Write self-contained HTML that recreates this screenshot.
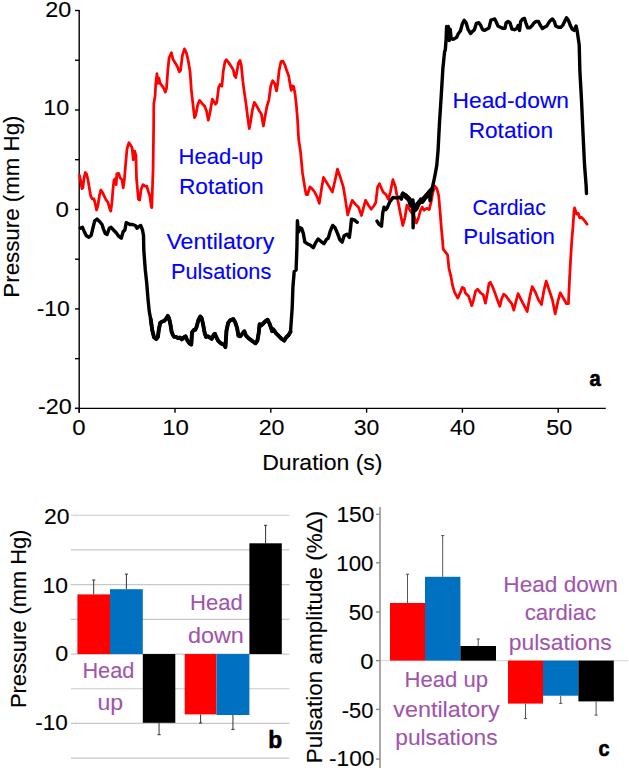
<!DOCTYPE html>
<html><head><meta charset="utf-8"><style>
html,body{margin:0;padding:0;background:#fff;width:629px;height:770px;overflow:hidden}
svg{display:block;font-family:"Liberation Sans",sans-serif}
</style></head><body>
<svg width="629" height="770" viewBox="0 0 629 770">
<rect width="629" height="770" fill="#fff"/>
<line x1="79.2" y1="9.9" x2="79.2" y2="412.7" stroke="#000" stroke-width="1.4"/>
<line x1="74.9" y1="408.4" x2="605.8" y2="408.4" stroke="#000" stroke-width="1.4"/>
<line x1="75.0" y1="10.50" x2="79.2" y2="10.50" stroke="#000" stroke-width="1.4"/>
<line x1="75.0" y1="60.24" x2="79.2" y2="60.24" stroke="#000" stroke-width="1.4"/>
<line x1="75.0" y1="109.97" x2="79.2" y2="109.97" stroke="#000" stroke-width="1.4"/>
<line x1="75.0" y1="159.71" x2="79.2" y2="159.71" stroke="#000" stroke-width="1.4"/>
<line x1="75.0" y1="209.45" x2="79.2" y2="209.45" stroke="#000" stroke-width="1.4"/>
<line x1="75.0" y1="259.19" x2="79.2" y2="259.19" stroke="#000" stroke-width="1.4"/>
<line x1="75.0" y1="308.92" x2="79.2" y2="308.92" stroke="#000" stroke-width="1.4"/>
<line x1="75.0" y1="358.66" x2="79.2" y2="358.66" stroke="#000" stroke-width="1.4"/>
<line x1="75.0" y1="408.40" x2="79.2" y2="408.40" stroke="#000" stroke-width="1.4"/>
<line x1="79.20" y1="408.4" x2="79.20" y2="412.7" stroke="#000" stroke-width="1.4"/>
<line x1="175.00" y1="408.4" x2="175.00" y2="412.7" stroke="#000" stroke-width="1.4"/>
<line x1="270.80" y1="408.4" x2="270.80" y2="412.7" stroke="#000" stroke-width="1.4"/>
<line x1="366.60" y1="408.4" x2="366.60" y2="412.7" stroke="#000" stroke-width="1.4"/>
<line x1="462.40" y1="408.4" x2="462.40" y2="412.7" stroke="#000" stroke-width="1.4"/>
<line x1="558.20" y1="408.4" x2="558.20" y2="412.7" stroke="#000" stroke-width="1.4"/>
<text transform="matrix(0.23333,0,0,0.22817,45.18,17.32)" font-size="100" font-weight="normal" fill="#000" stroke="#000" stroke-width="0.52">20</text>
<text transform="matrix(0.23434,0,0,0.22254,43.18,115.33)" font-size="100" font-weight="normal" fill="#000" stroke="#000" stroke-width="0.53">10</text>
<text transform="matrix(0.24167,0,0,0.21831,55.38,217.43)" font-size="100" font-weight="normal" fill="#000" stroke="#000" stroke-width="0.52">0</text>
<text transform="matrix(0.22993,0,0,0.21690,36.63,316.03)" font-size="100" font-weight="normal" fill="#000" stroke="#000" stroke-width="0.54">-10</text>
<text transform="matrix(0.23358,0,0,0.22676,37.92,413.92)" font-size="100" font-weight="normal" fill="#000" stroke="#000" stroke-width="0.52">-20</text>
<text transform="matrix(0.23958,0,0,0.21972,72.19,434.73)" font-size="100" font-weight="normal" fill="#000" stroke="#000" stroke-width="0.52">0</text>
<text transform="matrix(0.24040,0,0,0.21972,162.13,434.73)" font-size="100" font-weight="normal" fill="#000" stroke="#000" stroke-width="0.52">10</text>
<text transform="matrix(0.23235,0,0,0.21972,258.69,434.73)" font-size="100" font-weight="normal" fill="#000" stroke="#000" stroke-width="0.53">20</text>
<text transform="matrix(0.23010,0,0,0.21972,353.73,434.73)" font-size="100" font-weight="normal" fill="#000" stroke="#000" stroke-width="0.53">30</text>
<text transform="matrix(0.22762,0,0,0.21972,449.89,434.73)" font-size="100" font-weight="normal" fill="#000" stroke="#000" stroke-width="0.54">40</text>
<text transform="matrix(0.23398,0,0,0.21972,546.21,434.73)" font-size="100" font-weight="normal" fill="#000" stroke="#000" stroke-width="0.53">50</text>
<text transform="matrix(0.22941,0,0,0.22958,44.10,523.72)" font-size="100" font-weight="normal" fill="#000" stroke="#000" stroke-width="0.52">20</text>
<text transform="matrix(0.22929,0,0,0.22535,42.62,592.52)" font-size="100" font-weight="normal" fill="#000" stroke="#000" stroke-width="0.53">10</text>
<text transform="matrix(0.23333,0,0,0.22535,55.32,660.82)" font-size="100" font-weight="normal" fill="#000" stroke="#000" stroke-width="0.52">0</text>
<text transform="matrix(0.22482,0,0,0.22958,35.15,730.22)" font-size="100" font-weight="normal" fill="#000" stroke="#000" stroke-width="0.53">-10</text>
<text transform="matrix(0.22774,0,0,0.21690,336.43,522.13)" font-size="100" font-weight="normal" fill="#000" stroke="#000" stroke-width="0.54">150</text>
<text transform="matrix(0.22194,0,0,0.22394,336.37,571.33)" font-size="100" font-weight="normal" fill="#000" stroke="#000" stroke-width="0.54">100</text>
<text transform="matrix(0.22233,0,0,0.22394,348.76,620.03)" font-size="100" font-weight="normal" fill="#000" stroke="#000" stroke-width="0.54">50</text>
<text transform="matrix(0.23750,0,0,0.22958,360.20,669.12)" font-size="100" font-weight="normal" fill="#000" stroke="#000" stroke-width="0.51">0</text>
<text transform="matrix(0.21898,0,0,0.21972,341.67,718.23)" font-size="100" font-weight="normal" fill="#000" stroke="#000" stroke-width="0.55">-50</text>
<text transform="matrix(0.22604,0,0,0.22394,329.05,766.33)" font-size="100" font-weight="normal" fill="#000" stroke="#000" stroke-width="0.53">-100</text>
<text transform="translate(262.21,469.50) scale(1.0110,1)" font-size="22.8" font-weight="normal" fill="#000" stroke="#000" stroke-width="0.12">Duration (s)</text>
<text transform="translate(19.00,297.63) rotate(-90) scale(0.9782,1)" font-size="22.8" fill="#000" stroke="#000" stroke-width="0.12">Pressure (mm Hg)</text>
<text transform="translate(25.90,708.10) rotate(-90) scale(0.9586,1)" font-size="22.8" fill="#000" stroke="#000" stroke-width="0.12">Pressure (mm Hg)</text>
<text transform="translate(321.80,763.35) rotate(-90) scale(0.9871,1)" font-size="22.8" fill="#000" stroke="#000" stroke-width="0.12">Pulsation amplitude (%&#916;)</text>
<text transform="matrix(0.20189,0,0,0.22545,589.54,386.12)" font-size="100" font-weight="bold" fill="#000" stroke="#000" stroke-width="2.81">a</text>
<text transform="matrix(0.22800,0,0,0.24110,268.15,747.55)" font-size="100" font-weight="bold" fill="#000" stroke="#000" stroke-width="2.56">b</text>
<text transform="matrix(0.19796,0,0,0.22909,598.46,755.82)" font-size="100" font-weight="bold" fill="#000" stroke="#000" stroke-width="2.81">c</text>
<g fill="none" stroke-linejoin="round" stroke-linecap="round">
<path d="M79.6,175.7 L80.8,181.4 L81.9,188.6 L82.9,187.9 L84.0,177.9 L85.3,172.5 L86.5,173.9 L87.9,179.3 L89.4,188.6 L90.8,196.4 L92.2,198.9 L94.0,198.9 L95.4,204.3 L96.5,210.0 L97.9,205.7 L99.4,195.7 L100.8,190.0 L102.2,191.8 L104.0,195.7 L106.1,200.0 L107.9,202.1 L109.7,208.6 L110.8,211.1 L111.9,202.9 L112.9,190.0 L114.0,180.0 L114.9,183.4 L115.5,178.3 L116.2,184.7 L116.8,173.9 L118.7,173.3 L120.0,177.7 L121.9,179.6 L123.2,187.9 L124.4,179.6 L125.7,163.1 L127.0,149.1 L128.9,142.7 L130.8,145.3 L132.1,147.8 L133.3,159.9 L134.6,151.0 L135.9,155.4 L136.5,178.3 L137.2,186.0 L138.4,199.3 L139.7,200.0 L141.0,189.8 L142.9,184.7 L144.8,186.0 L146.7,186.0 L148.6,192.3 L149.9,196.2 L151.2,206.3 L151.8,207.6 L153.1,168.2 L153.6,129.0 L153.8,103.6 L155.1,96.0 L155.7,84.5 L157.0,73.7 L157.9,83.3 L158.9,78.2 L160.2,83.3 L162.1,85.8 L163.7,88.3 L165.3,92.2 L166.5,88.3 L167.8,70.5 L169.1,57.8 L171.4,52.7 L172.9,59.1 L174.8,62.3 L177.4,66.7 L179.3,71.8 L180.5,70.5 L182.4,55.3 L184.4,48.9 L186.3,52.7 L188.2,60.4 L190.1,71.8 L191.3,89.6 L192.6,101.1 L194.5,117.6 L195.8,115.1 L197.7,104.9 L199.6,100.4 L202.2,103.6 L204.7,106.2 L206.6,111.2 L208.3,120.2 L209.8,113.8 L212.3,99.2 L213.6,101.1 L215.5,104.2 L216.8,102.3 L218.7,87.1 L220.0,84.5 L221.9,86.4 L223.2,71.8 L225.0,61.6 L226.3,59.7 L228.8,62.9 L231.4,66.7 L233.3,69.9 L234.5,75.6 L235.8,77.5 L237.1,70.5 L238.4,62.9 L240.0,60.4 L241.3,65.4 L242.8,80.7 L244.1,90.9 L246.0,103.6 L247.9,118.9 L249.3,128.6 L250.4,122.7 L252.4,110.0 L254.3,102.3 L256.8,106.2 L259.4,111.2 L261.3,113.8 L263.4,126.0 L265.1,116.3 L267.0,106.2 L268.9,99.8 L270.8,85.8 L272.7,80.7 L274.6,83.3 L276.5,90.9 L277.8,83.3 L279.1,70.5 L281.0,61.6 L282.9,61.0 L284.8,64.8 L286.7,70.5 L288.6,75.6 L289.9,83.3 L291.2,90.3 L292.4,85.8 L293.7,86.4 L295.0,93.4 L296.2,103.6 L297.5,118.9 L298.6,138.6 L300.6,152.5 L302.5,172.9 L304.5,185.6 L306.1,194.5 L307.6,194.5 L309.9,186.9 L312.1,188.8 L314.6,192.0 L317.2,197.1 L319.3,203.4 L321.6,188.2 L323.5,177.4 L325.4,180.5 L329.3,186.9 L332.4,192.0 L335.0,180.5 L337.5,169.1 L340.1,176.7 L343.3,186.9 L345.2,198.3 L347.7,214.9 L349.6,208.5 L352.2,200.3 L355.3,204.1 L358.5,207.3 L361.5,215.5 L363.6,207.3 L365.5,200.3 L368.1,204.7 L371.2,209.2 L373.8,206.0 L375.7,202.8 L377.6,186.9 L379.5,183.7 L381.5,188.6 L383.4,192.4 L385.9,194.4 L388.4,199.4 L390.4,191.8 L392.9,179.7 L395.4,186.7 L397.4,198.2 L399.9,210.9 L402.8,225.5 L405.0,217.3 L406.9,205.2 L408.8,208.3 L411.3,212.2 L413.9,216.0 L416.4,223.0 L418.3,218.5 L420.3,210.9 L422.2,207.1 L424.1,210.3 L426.6,208.3 L429.2,209.6 L431.1,202.0 L433.0,191.8 L434.9,186.1 L436.8,188.6 L438.7,195.6 L440.0,210.9 L441.2,226.2 L442.5,240.0 L443.2,249.1 L445.1,251.6 L447.6,254.8 L448.9,268.2 L450.8,275.8 L452.7,286.0 L454.6,292.3 L457.8,298.1 L460.4,292.3 L462.3,287.3 L464.2,288.5 L465.4,293.0 L468.6,296.2 L471.8,305.7 L473.7,299.3 L475.6,291.1 L477.5,289.2 L480.7,293.0 L483.3,294.9 L485.4,303.2 L487.1,294.9 L489.0,283.4 L490.3,282.2 L492.2,286.0 L494.7,292.3 L497.9,301.2 L499.8,306.3 L501.7,298.7 L503.6,294.2 L506.2,296.2 L509.3,300.6 L511.9,303.8 L513.8,310.2 L515.7,302.5 L518.1,293.6 L521.2,299.8 L524.4,306.1 L527.2,311.5 L529.8,296.7 L532.2,286.6 L535.3,292.0 L538.4,299.8 L541.5,304.5 L543.9,290.5 L546.2,281.1 L549.3,290.5 L552.4,299.8 L555.2,313.9 L557.9,301.4 L560.2,292.8 L563.4,298.3 L566.5,303.7 L568.4,303.7 L569.6,278.0 L570.9,254.6 L571.9,239.0 L573.0,226.5 L574.0,210.9 L574.6,207.8 L576.6,214.0 L578.2,213.3 L579.7,217.9 L581.3,217.2 L583.6,219.5 L586.0,222.6 L587.1,224.2" stroke="#f00" stroke-width="2.75"/>
<path d="M80.2,228.2 L82.5,227.3 L84.4,231.8 L86.2,235.5 L88.9,237.3 L91.1,235.5 L92.9,228.2 L94.7,220.9 L97.1,219.1 L99.8,221.8 L102.0,224.5 L103.5,229.1 L105.3,233.6 L107.1,234.5 L109.3,228.2 L111.1,227.3 L113.5,230.0 L116.2,232.7 L118.9,236.4 L121.3,238.2 L123.1,231.8 L124.9,230.0 L126.2,222.7 L127.5,223.1 L129.8,224.5 L132.5,224.5 L135.3,225.5 L137.1,228.2 L138.9,226.4 L140.7,225.5 L142.5,230.0 L143.5,235.5 L143.8,250.0 L145.3,270.0 L146.7,282.7 L148.0,299.1 L149.3,311.8 L150.7,319.1 L152.2,330.0 L154.0,337.3 L156.2,339.1 L157.9,336.9 L158.9,329.3 L160.2,322.9 L162.1,321.6 L164.0,321.0 L165.9,319.1 L167.8,315.9 L169.1,318.4 L170.4,324.2 L171.6,331.8 L172.9,335.0 L174.2,336.9 L176.1,336.9 L178.0,338.2 L179.9,337.5 L181.8,339.4 L183.7,337.5 L185.6,336.3 L187.5,340.7 L189.4,343.3 L191.3,344.5 L192.0,332.4 L193.9,329.9 L195.2,329.9 L196.4,327.4 L198.3,320.4 L200.3,316.5 L201.5,317.8 L202.8,322.9 L204.7,333.1 L206.0,336.9 L207.9,336.3 L209.8,337.5 L211.7,338.8 L213.6,335.0 L214.9,333.7 L216.2,336.9 L218.1,340.7 L220.0,342.6 L221.9,343.9 L223.8,344.5 L225.4,347.1 L226.5,330.5 L228.2,322.9 L230.1,320.4 L233.3,319.1 L235.2,322.3 L237.1,328.0 L238.4,335.6 L240.3,336.3 L242.8,333.1 L244.3,331.2 L246.0,335.6 L248.5,338.2 L251.1,340.1 L253.6,342.0 L255.5,343.3 L257.4,340.7 L258.7,333.1 L259.6,324.2 L261.3,325.4 L263.2,323.5 L265.7,321.0 L267.6,319.7 L269.5,323.5 L271.1,328.0 L272.1,331.2 L273.3,329.3 L275.9,333.1 L278.4,335.6 L281.6,338.8 L284.2,340.7 L286.1,337.5 L288.6,335.0 L290.5,331.8 L291.4,319.1 L292.2,307.6 L292.9,287.4 L294.2,271.5 L296.1,270.0 L296.9,247.7 L297.4,220.7 L298.5,231.8 L300.1,227.8 L301.7,228.6 L303.3,233.4 L304.9,242.1 L307.3,243.7 L310.4,245.3 L313.3,247.7 L316.0,242.1 L318.1,239.0 L320.8,241.3 L324.0,243.7 L326.3,239.7 L328.2,238.2 L330.3,231.0 L332.7,225.4 L335.1,227.8 L337.5,233.4 L339.8,239.7 L342.2,242.1 L344.1,235.8 L347.0,234.2 L349.4,237.4 L350.5,228.6 L351.5,219.1 L354.2,219.9 L357.3,222.3" stroke="#000" stroke-width="3.4"/>
<path d="M150.7,319.1 L152.2,330.0 L154.0,337.3 L156.2,339.1 L157.9,336.9 L158.9,329.3 L160.2,322.9 L162.1,321.6 L164.0,321.0 L165.9,319.1 L167.8,315.9 L169.1,318.4 L170.4,324.2 L171.6,331.8 L172.9,335.0 L174.2,336.9 L176.1,336.9 L178.0,338.2 L179.9,337.5 L181.8,339.4 L183.7,337.5 L185.6,336.3 L187.5,340.7 L189.4,343.3 L191.3,344.5 L192.0,332.4 L193.9,329.9 L195.2,329.9 L196.4,327.4 L198.3,320.4 L200.3,316.5 L201.5,317.8 L202.8,322.9 L204.7,333.1 L206.0,336.9 L207.9,336.3 L209.8,337.5 L211.7,338.8 L213.6,335.0 L214.9,333.7 L216.2,336.9 L218.1,340.7 L220.0,342.6 L221.9,343.9 L223.8,344.5 L225.4,347.1 L226.5,330.5 L228.2,322.9 L230.1,320.4 L233.3,319.1 L235.2,322.3 L237.1,328.0 L238.4,335.6 L240.3,336.3 L242.8,333.1 L244.3,331.2 L246.0,335.6 L248.5,338.2 L251.1,340.1 L253.6,342.0 L255.5,343.3 L257.4,340.7 L258.7,333.1 L259.6,324.2 L261.3,325.4 L263.2,323.5 L265.7,321.0 L267.6,319.7 L269.5,323.5 L271.1,328.0 L272.1,331.2 L273.3,329.3 L275.9,333.1 L278.4,335.6 L281.6,338.8 L284.2,340.7 L286.1,337.5 L288.6,335.0 L290.5,331.8" stroke="#000" stroke-width="3.9"/>
<path d="M377.0,221.1 L378.9,224.2 L381.5,226.2 L382.7,213.4 L384.0,207.1 L385.9,209.6 L387.2,207.7 L389.7,202.0 L392.9,197.5 L395.0,197.9 L397.4,197.9 L399.8,197.1 L401.4,199.1 L403.0,193.1 L404.5,194.7 L406.1,195.5 L407.7,197.5 L409.3,198.7 L410.5,202.3 L411.3,206.2 L412.1,203.1 L412.9,199.9 L413.1,227.7 L413.7,210.2 L415.3,210.6 L416.9,207.0 L418.1,203.1 L419.6,201.5 L420.8,199.1 L422.0,202.3 L423.2,200.7 L424.8,197.5 L426.0,195.1 L427.2,195.9 L428.4,192.7 L429.6,191.1 L430.0,200.7 L430.8,194.3 L431.6,189.5 L432.4,187.2 L433.2,184.0 L434.0,180.0 L435.5,172.7 L436.8,165.1 L438.1,150.0 L439.4,124.3 L441.4,93.2 L442.9,68.2 L444.6,51.6 L445.3,50.0 L446.1,39.3 L446.6,26.5 L447.4,35.4 L448.3,26.5 L449.2,40.5 L450.2,29.1 L451.2,38.6 L452.7,39.3 L454.6,38.6 L456.5,37.4 L458.4,33.5 L460.4,31.0 L462.3,24.0 L464.2,20.2 L466.1,22.7 L468.0,29.1 L470.5,33.5 L472.4,31.6 L474.4,29.7 L476.3,23.4 L478.8,22.7 L480.7,25.3 L482.6,29.7 L484.5,30.4 L487.1,29.1 L489.0,27.8 L490.9,20.2 L492.8,19.5 L494.7,18.9 L496.0,21.5 L497.9,25.9 L500.4,27.2 L502.9,28.4 L504.9,28.4 L506.2,22.7 L508.1,21.5 L510.0,22.7 L511.9,29.1 L514.4,29.7 L516.9,28.5 L518.2,25.4 L519.5,30.4 L520.7,21.5 L522.6,19.0 L524.5,18.4 L525.8,22.8 L527.7,27.9 L529.6,27.9 L532.2,25.4 L534.1,22.8 L536.0,21.5 L538.5,21.5 L540.4,25.4 L542.4,28.5 L544.3,27.3 L546.8,26.0 L548.7,22.8 L550.6,20.3 L552.5,19.0 L554.4,21.5 L555.7,26.0 L558.3,27.3 L560.8,27.3 L562.7,25.4 L564.6,21.5 L566.5,17.7 L568.4,20.3 L570.3,25.4 L572.3,29.2 L574.2,30.4 L576.1,26.0 L577.3,31.7 L578.2,38.1 L579.2,45.0 L579.9,71.1 L581.6,102.2 L583.0,133.4 L584.5,164.5 L586.1,185.2 L586.5,193.5" stroke="#000" stroke-width="3.4"/>
<path d="M403.0,194.5 L405.0,195.5 L407.7,198.0 L409.5,200.0 L411.0,204.5 L412.5,203.0 L414.0,209.0 L416.0,208.5 L418.0,204.0 L420.0,201.5 L422.0,201.5 L424.5,198.0 L427.0,195.5 L429.5,192.5 L431.5,190.0" stroke="#000" stroke-width="5.2"/>
</g>
<text transform="translate(178.48,164.40) scale(0.9682,1)" font-size="22.8" font-weight="normal" fill="#0000ff" stroke="#0000ff" stroke-width="0.12">Head-up</text>
<text transform="translate(178.93,194.00) scale(0.9973,1)" font-size="22.8" font-weight="normal" fill="#0000ff" stroke="#0000ff" stroke-width="0.12">Rotation</text>
<text transform="translate(166.42,248.90) scale(1.0146,1)" font-size="22.8" font-weight="normal" fill="#0000ff" stroke="#0000ff" stroke-width="0.12">Ventilatory</text>
<text transform="translate(170.91,278.60) scale(0.9552,1)" font-size="22.8" font-weight="normal" fill="#0000ff" stroke="#0000ff" stroke-width="0.12">Pulsations</text>
<text transform="translate(452.53,108.30) scale(0.9999,1)" font-size="22.8" font-weight="normal" fill="#0000ff" stroke="#0000ff" stroke-width="0.12">Head-down</text>
<text transform="translate(468.64,137.70) scale(0.9936,1)" font-size="22.8" font-weight="normal" fill="#0000ff" stroke="#0000ff" stroke-width="0.12">Rotation</text>
<text transform="translate(472.49,214.50) scale(0.9332,1)" font-size="22.8" font-weight="normal" fill="#0000ff" stroke="#0000ff" stroke-width="0.12">Cardiac</text>
<text transform="translate(463.37,243.80) scale(0.9777,1)" font-size="22.8" font-weight="normal" fill="#0000ff" stroke="#0000ff" stroke-width="0.12">Pulsation</text>
<line x1="70.8" y1="515.25" x2="289.4" y2="515.25" stroke="#c8c8c8" stroke-width="1.2"/>
<line x1="70.8" y1="549.95" x2="289.4" y2="549.95" stroke="#c8c8c8" stroke-width="1.2"/>
<line x1="70.8" y1="584.65" x2="289.4" y2="584.65" stroke="#c8c8c8" stroke-width="1.2"/>
<line x1="70.8" y1="619.35" x2="289.4" y2="619.35" stroke="#c8c8c8" stroke-width="1.2"/>
<line x1="70.8" y1="654.05" x2="289.4" y2="654.05" stroke="#c8c8c8" stroke-width="1.2"/>
<line x1="70.8" y1="688.75" x2="289.4" y2="688.75" stroke="#c8c8c8" stroke-width="1.2"/>
<line x1="70.8" y1="723.45" x2="289.4" y2="723.45" stroke="#c8c8c8" stroke-width="1.2"/>
<line x1="70.8" y1="758.15" x2="289.4" y2="758.15" stroke="#c8c8c8" stroke-width="1.2"/>
<rect x="77.4" y="594.40" width="32.60" height="59.65" fill="#ff0000"/>
<line x1="93.70" y1="594.40" x2="93.70" y2="580.00" stroke="#333333" stroke-width="1.0"/><line x1="92.10" y1="580.00" x2="95.30" y2="580.00" stroke="#333333" stroke-width="1.0"/>
<rect x="110.0" y="589.20" width="32.80" height="64.85" fill="#0070c0"/>
<line x1="126.40" y1="589.20" x2="126.40" y2="574.10" stroke="#333333" stroke-width="1.0"/><line x1="124.80" y1="574.10" x2="128.00" y2="574.10" stroke="#333333" stroke-width="1.0"/>
<rect x="142.8" y="654.05" width="32.50" height="68.75" fill="#000000"/>
<line x1="159.05" y1="722.80" x2="159.05" y2="734.70" stroke="#333333" stroke-width="1.0"/><line x1="157.45" y1="734.70" x2="160.65" y2="734.70" stroke="#333333" stroke-width="1.0"/>
<rect x="184.7" y="654.05" width="31.80" height="60.35" fill="#ff0000"/>
<line x1="200.60" y1="714.40" x2="200.60" y2="723.00" stroke="#333333" stroke-width="1.0"/><line x1="199.00" y1="723.00" x2="202.20" y2="723.00" stroke="#333333" stroke-width="1.0"/>
<rect x="216.5" y="654.05" width="32.90" height="60.95" fill="#0070c0"/>
<line x1="232.95" y1="715.00" x2="232.95" y2="729.40" stroke="#333333" stroke-width="1.0"/><line x1="231.35" y1="729.40" x2="234.55" y2="729.40" stroke="#333333" stroke-width="1.0"/>
<rect x="249.4" y="543.30" width="32.40" height="110.75" fill="#000000"/>
<line x1="265.60" y1="543.30" x2="265.60" y2="525.30" stroke="#333333" stroke-width="1.0"/><line x1="264.00" y1="525.30" x2="267.20" y2="525.30" stroke="#333333" stroke-width="1.0"/>
<text transform="translate(82.41,678.30) scale(0.9532,1)" font-size="22.8" font-weight="normal" fill="#a055ac" stroke="#a055ac" stroke-width="0.12">Head</text>
<text transform="translate(97.53,709.70) scale(1.0132,1)" font-size="22.8" font-weight="normal" fill="#a055ac" stroke="#a055ac" stroke-width="0.12">up</text>
<text transform="translate(190.08,610.40) scale(0.9688,1)" font-size="22.8" font-weight="normal" fill="#a055ac" stroke="#a055ac" stroke-width="0.12">Head</text>
<text transform="translate(187.91,643.20) scale(1.0266,1)" font-size="22.8" font-weight="normal" fill="#a055ac" stroke="#a055ac" stroke-width="0.12">down</text>
<line x1="380.5" y1="660.6" x2="628" y2="660.6" stroke="#dcdcdc" stroke-width="1.2"/>
<rect x="390.0" y="603.00" width="35.00" height="57.60" fill="#ff0000"/>
<line x1="407.50" y1="603.00" x2="407.50" y2="574.20" stroke="#555555" stroke-width="1.0"/><line x1="405.90" y1="574.20" x2="409.10" y2="574.20" stroke="#555555" stroke-width="1.0"/>
<rect x="425.0" y="576.80" width="35.40" height="83.80" fill="#0070c0"/>
<line x1="442.70" y1="576.80" x2="442.70" y2="535.60" stroke="#555555" stroke-width="1.0"/><line x1="441.10" y1="535.60" x2="444.30" y2="535.60" stroke="#555555" stroke-width="1.0"/>
<rect x="460.4" y="646.00" width="35.60" height="14.60" fill="#000000"/>
<line x1="478.20" y1="646.00" x2="478.20" y2="639.00" stroke="#555555" stroke-width="1.0"/><line x1="476.60" y1="639.00" x2="479.80" y2="639.00" stroke="#555555" stroke-width="1.0"/>
<rect x="508.0" y="660.60" width="35.00" height="43.00" fill="#ff0000"/>
<line x1="525.50" y1="703.60" x2="525.50" y2="718.60" stroke="#555555" stroke-width="1.0"/><line x1="523.90" y1="718.60" x2="527.10" y2="718.60" stroke="#555555" stroke-width="1.0"/>
<rect x="543.0" y="660.60" width="35.40" height="35.10" fill="#0070c0"/>
<line x1="560.70" y1="695.70" x2="560.70" y2="703.40" stroke="#555555" stroke-width="1.0"/><line x1="559.10" y1="703.40" x2="562.30" y2="703.40" stroke="#555555" stroke-width="1.0"/>
<rect x="578.4" y="660.60" width="35.40" height="40.80" fill="#000000"/>
<line x1="596.10" y1="701.40" x2="596.10" y2="715.10" stroke="#555555" stroke-width="1.0"/><line x1="594.50" y1="715.10" x2="597.70" y2="715.10" stroke="#555555" stroke-width="1.0"/>
<line x1="380.0" y1="506.9" x2="380.0" y2="768.0" stroke="#858585" stroke-width="1.4"/>
<line x1="376" y1="514.30" x2="380" y2="514.30" stroke="#858585" stroke-width="1.3"/>
<line x1="376" y1="562.80" x2="380" y2="562.80" stroke="#858585" stroke-width="1.3"/>
<line x1="376" y1="612.00" x2="380" y2="612.00" stroke="#858585" stroke-width="1.3"/>
<line x1="376" y1="660.60" x2="380" y2="660.60" stroke="#858585" stroke-width="1.3"/>
<line x1="376" y1="709.40" x2="380" y2="709.40" stroke="#858585" stroke-width="1.3"/>
<line x1="376" y1="759.10" x2="380" y2="759.10" stroke="#858585" stroke-width="1.3"/>
<text transform="translate(404.48,686.90) scale(0.9695,1)" font-size="22.8" font-weight="normal" fill="#a055ac" stroke="#a055ac" stroke-width="0.12">Head up</text>
<text transform="translate(393.32,717.00) scale(1.0240,1)" font-size="22.8" font-weight="normal" fill="#a055ac" stroke="#a055ac" stroke-width="0.12">ventilatory</text>
<text transform="translate(395.26,744.90) scale(0.9958,1)" font-size="22.8" font-weight="normal" fill="#a055ac" stroke="#a055ac" stroke-width="0.12">pulsations</text>
<text transform="translate(503.34,591.50) scale(0.9924,1)" font-size="22.8" font-weight="normal" fill="#a055ac" stroke="#a055ac" stroke-width="0.12">Head down</text>
<text transform="translate(524.66,620.20) scale(0.9733,1)" font-size="22.8" font-weight="normal" fill="#a055ac" stroke="#a055ac" stroke-width="0.12">cardiac</text>
<text transform="translate(508.85,650.10) scale(1.0018,1)" font-size="22.8" font-weight="normal" fill="#a055ac" stroke="#a055ac" stroke-width="0.12">pulsations</text>
</svg>
</body></html>
